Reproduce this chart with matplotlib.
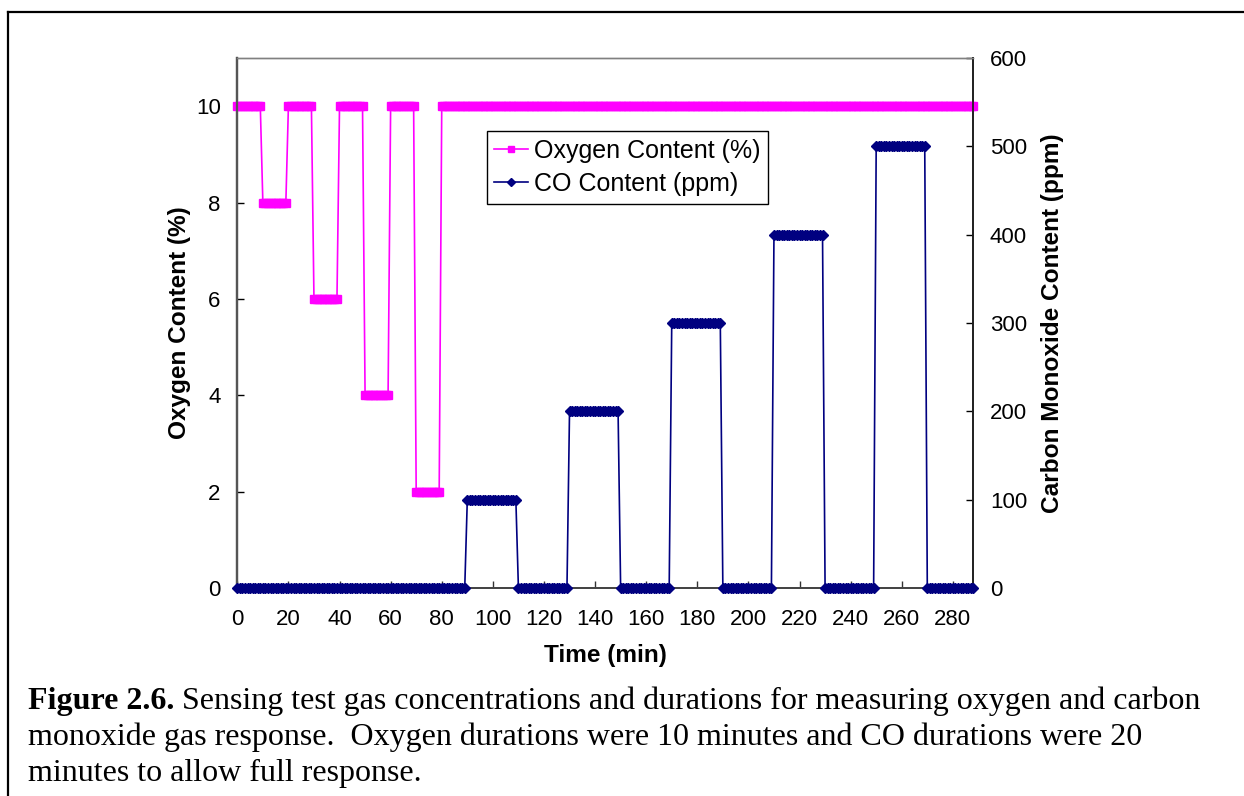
import numpy as np
import matplotlib
matplotlib.use("Agg")
import matplotlib.pyplot as plt
from matplotlib.lines import Line2D

plt.rcParams['font.family'] = ['Liberation Sans', 'DejaVu Sans']

# Gas schedule: step levels and how long each step is held (minutes)
o2_levels = [10, 8, 10, 6, 10, 4, 10, 2, 10]
o2_durations = [10, 10, 10, 10, 10, 10, 10, 10, 208]
co_levels = [0, 100, 0, 200, 0, 300, 0, 400, 0, 500, 0]
co_durations = [90, 20, 20, 20, 20, 20, 20, 20, 20, 20, 18]
sample_step = 1.0  # logging interval, minutes

x_ticks = list(range(0, 281, 20))
o2_ticks = [0, 2, 4, 6, 8, 10]
co_ticks = [0, 100, 200, 300, 400, 500, 600]

caption_bold = "Figure 2.6."
caption_lines = [
    " Sensing test gas concentrations and durations for measuring oxygen and carbon",
    "monoxide gas response.  Oxygen durations were 10 minutes and CO durations were 20",
    "minutes to allow full response.",
]


def logged_series(levels, durations, dt):
    counts = (np.asarray(durations) / dt).astype(int)
    vals = np.repeat(levels, counts)
    vals = np.append(vals, levels[-1])
    t = np.arange(len(vals)) * dt
    return t, vals


t_o2, o2 = logged_series(o2_levels, o2_durations, sample_step)
t_co, co = logged_series(co_levels, co_durations, sample_step)

W, H = 1244, 796
fig = plt.figure(figsize=(W / 100, H / 100), dpi=100)

L, R, T, B = 237.3, 973.3, 58, 588
ax = fig.add_axes([L / W, 1 - B / H, (R - L) / W, (B - T) / H])
ax2 = ax.twinx()

magenta = '#FF00FF'
navy = '#000080'

l1, = ax.plot(t_o2, o2, color=magenta, lw=1.2, marker='s', ms=5.6,
              mec=magenta, mfc=magenta, clip_on=False, zorder=3)
l2, = ax2.plot(t_co, co, color=navy, lw=1.2, marker='D', ms=5.2,
               mec=navy, mfc=navy, clip_on=False, zorder=3)

ax.set_xlim(0, 288)
ax.set_ylim(0, 11)
ax2.set_ylim(0, 600)
ax.set_xticks(x_ticks)
ax.set_yticks(o2_ticks)
ax2.set_yticks(co_ticks)

tick_fs = 16
label_fs = 17.6
ax.tick_params(axis='x', direction='in', length=5, width=1, pad=15,
               labelsize=tick_fs, color='#333333')
ax.tick_params(axis='y', direction='in', length=5, width=1, pad=12,
               labelsize=tick_fs, color='black')
ax2.tick_params(axis='y', direction='in', length=5, width=1, pad=12,
                labelsize=tick_fs, color='black')

for a in (ax, ax2):
    a.spines['top'].set_color('#808080')
    a.spines['top'].set_linewidth(1.0)
    a.spines['left'].set_color('#555555')
    a.spines['left'].set_linewidth(1.6)
    a.spines['bottom'].set_color('#444444')
    a.spines['bottom'].set_linewidth(1.3)
    a.spines['right'].set_color('#222222')
    a.spines['right'].set_linewidth(1.3)

ax.set_xlabel('Time (min)', fontsize=label_fs, fontweight='bold', va='center')
ax.xaxis.set_label_coords(0.5, -0.128)
ax.set_ylabel('Oxygen Content (%)', fontsize=label_fs, fontweight='bold', va='center')
ax.yaxis.set_label_coords(-0.078, 0.5)
ax2.set_ylabel('Carbon Monoxide Content (ppm)', fontsize=label_fs, fontweight='bold',
               va='center', rotation=90)
ax2.yaxis.set_label_coords(1.108, 0.5)

leg = ax2.legend([l1, l2], ['Oxygen Content (%)', 'CO Content (ppm)'],
                 loc='upper left', bbox_to_anchor=(0.339, 0.862),
                 fontsize=18, frameon=True, fancybox=False, shadow=False,
                 edgecolor='black', framealpha=1, borderpad=0.3,
                 handlelength=1.35, handletextpad=0.25, labelspacing=0.38,
                 markerscale=0.75, borderaxespad=0)
leg.get_frame().set_linewidth(1.0)

# page frame lines
fig.add_artist(Line2D([8 / W, 8 / W], [0, 1 - 12 / H], color='black', lw=1.6,
                      transform=fig.transFigure))
fig.add_artist(Line2D([8 / W, 1], [1 - 12 / H, 1 - 12 / H], color='black', lw=1.6,
                      transform=fig.transFigure))

# caption
cap_fs = 23
serif = ['Liberation Serif', 'DejaVu Serif']
x0 = 28 / W
ys = [1 - 709 / H, 1 - 745 / H, 1 - 781 / H]
tb = fig.text(x0, ys[0], caption_bold, fontsize=cap_fs, fontweight='bold',
              family=serif, va='baseline')
fig.canvas.draw()
bb = tb.get_window_extent(fig.canvas.get_renderer())
fig.text(bb.x1 / W, ys[0], caption_lines[0], fontsize=cap_fs, family=serif,
         va='baseline')
fig.text(x0, ys[1], caption_lines[1], fontsize=cap_fs, family=serif, va='baseline')
fig.text(x0, ys[2], caption_lines[2], fontsize=cap_fs, family=serif, va='baseline')

fig.savefig('out.png', dpi=100)
